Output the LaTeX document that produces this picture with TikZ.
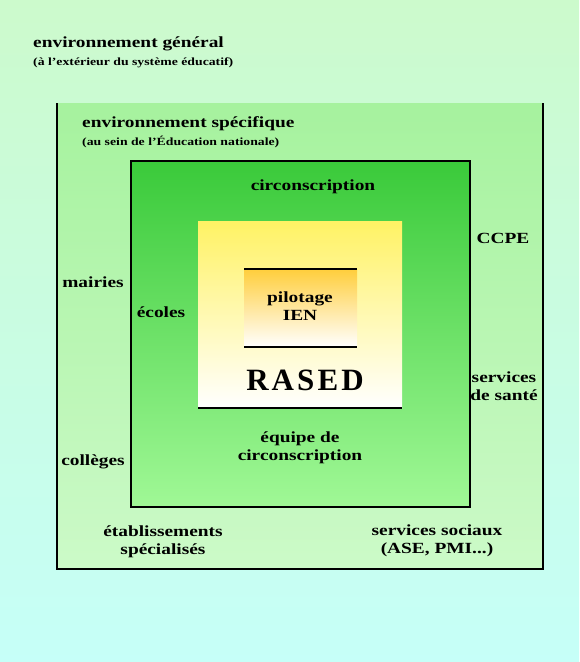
\documentclass[tikz,border=0pt]{standalone}
\usepackage{fontspec}
\setmainfont{Liberation Serif}[FakeStretch=1.25]
\newfontfamily\rasedfont{Liberation Serif Bold}[LetterSpace=10]
\definecolor{bgtop}{RGB}{204,250,204}
\definecolor{bgbot}{RGB}{198,255,248}
\definecolor{spectop}{RGB}{166,242,158}
\definecolor{specbot}{RGB}{204,250,200}
\definecolor{circtop}{RGB}{58,202,58}
\definecolor{circbot}{RGB}{160,248,150}
\definecolor{raseddtop}{RGB}{255,242,100}
\definecolor{pilottop}{RGB}{255,206,60}
\tikzset{
  lbl/.style={inner sep=0pt, font=\bfseries\fontsize{15.5}{18.5}\selectfont, align=center},
  sub/.style={inner sep=0pt, font=\bfseries\fontsize{11}{12}\selectfont},
  frame/.style={line width=2pt, black}
}
\begin{document}
\begin{tikzpicture}[x=1pt,y=-1pt]
  % page background
  \shade[top color=bgtop, bottom color=bgbot] (0,0) rectangle (579,662);
  \useasboundingbox (0,0) rectangle (579,662);

  % environnement spécifique
  \shade[top color=spectop, bottom color=specbot] (57,103) rectangle (543,569);
  \draw[frame] (57,103) -- (57,569) -- (543,569) -- (543,103);

  % circonscription
  \shade[top color=circtop, bottom color=circbot] (131,161) rectangle (470,507);
  \draw[frame] (131,161) rectangle (470,507);

  % RASED
  \shade[top color=raseddtop, bottom color=white] (198,221) rectangle (402,408);
  \draw[frame] (198,408) -- (402,408);

  % pilotage
  \shade[top color=pilottop, bottom color=white] (244,269) rectangle (357,347);
  \draw[line width=1.5pt] (244,269) -- (357,269);
  \draw[line width=1.5pt] (244,347) -- (357,347);

  % labels
  \node[lbl, anchor=west] (gen) at (33,44) {environnement général};
  \node[sub, anchor=west] (gensub) at (33,63) {(à l'extérieur du système éducatif)};
  \node[lbl, anchor=west] (spec) at (82,124) {environnement spécifique};
  \node[sub, anchor=west] (specsub) at (82,142) {(au sein de l'Éducation nationale)};
  \node[lbl] (circ) at (313,187) {circonscription};
  \node[lbl] (pil) at (300,306) {pilotage\\IEN};
  \node[inner sep=0pt, font=\rasedfont\fontsize{31}{31}\selectfont] (rased) at (305,380) {RASED};
  \node[lbl] (ecoles) at (161,312) {écoles};
  \node[lbl] (mairies) at (93,282) {mairies};
  \node[lbl] (colleges) at (93,462) {collèges};
  \node[lbl] (ccpe) at (503,238) {CCPE};
  \node[lbl] (sante) at (504,386) {services\\de santé};
  \node[lbl] (equipe) at (300,448) {équipe de\\circonscription};
  \node[lbl] (etab) at (163,542) {établissements\\spécialisés};
  \node[lbl] (sociaux) at (437,541) {services sociaux\\(ASE, PMI...)};
\end{tikzpicture}
\end{document}
